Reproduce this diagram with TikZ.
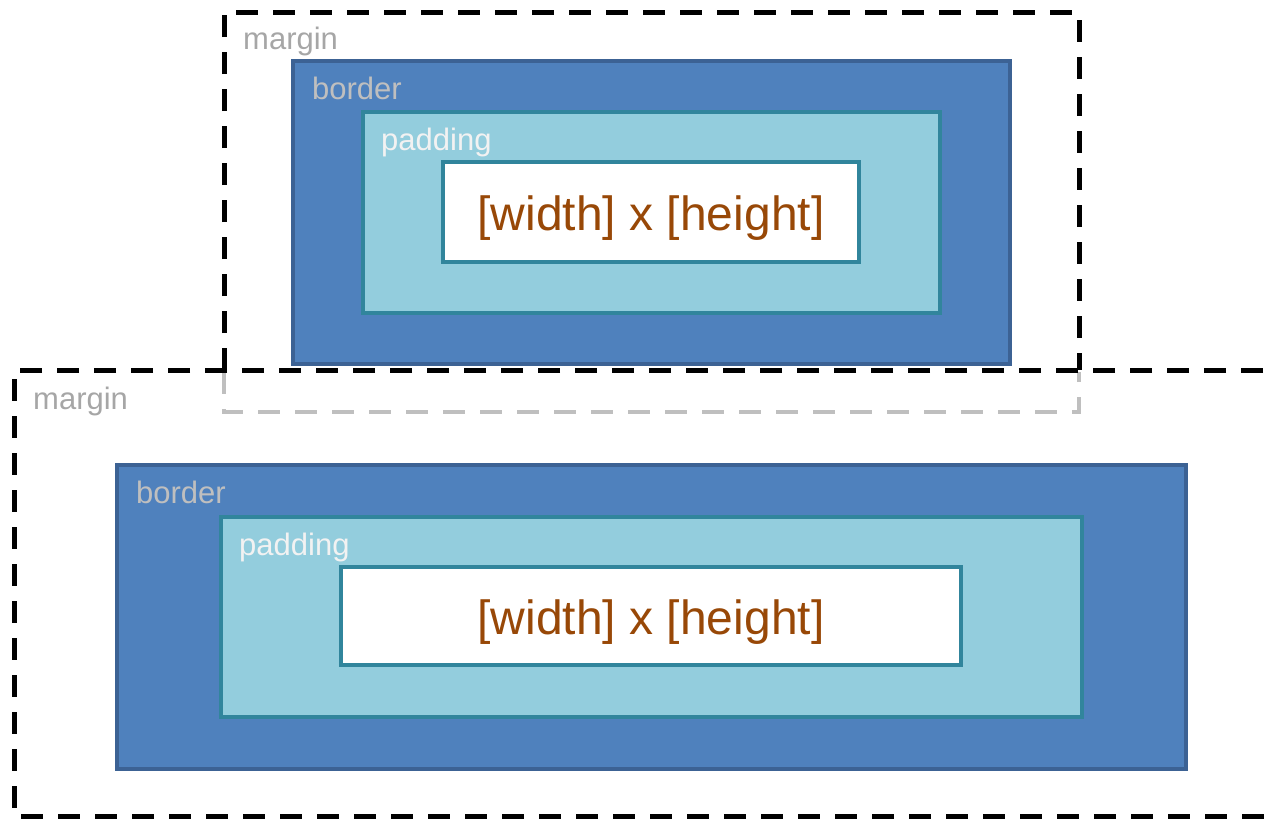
\documentclass[tikz,border=0pt]{standalone}
\usepackage{fontspec}
\setmainfont{Liberation Sans}
\definecolor{borderfill}{HTML}{4F81BD}
\definecolor{borderline}{HTML}{3C6294}
\definecolor{padfill}{HTML}{93CDDD}
\definecolor{padline}{HTML}{31859C}
\definecolor{sizetext}{HTML}{984807}
\definecolor{marginlabel}{HTML}{A6A6A6}
\definecolor{borderlabel}{HTML}{BFBFBF}
\definecolor{paddinglabel}{HTML}{F2F2F2}
\definecolor{ghost}{HTML}{BFBFBF}
\tikzset{
  marginline/.style={line width=5pt, dash pattern=on 22pt off 15pt, black},
  ghostline/.style={line width=4.5pt, dash pattern=on 22pt off 15pt, ghost},
  borderbox/.style={fill=borderfill, draw=borderline, line width=3.5pt},
  padbox/.style={fill=padfill, draw=padline, line width=4pt},
  contentbox/.style={fill=white, draw=padline, line width=4pt},
  lbl/.style={anchor=base west, inner sep=0pt, font=\fontsize{31}{36}\selectfont},
  marginlbl/.style={lbl, text=marginlabel},
  borderlbl/.style={lbl, text=borderlabel},
  paddinglbl/.style={lbl, text=paddinglabel},
  sizelbl/.style={anchor=base, inner sep=0pt, text=sizetext, font=\fontsize{48}{56}\selectfont}
}
\begin{document}
\begin{tikzpicture}[x=1pt, y=-1pt]
\useasboundingbox (0,0) rectangle (1278,819);

% upper box: margin (upper part solid, lower part faded where it overlaps)
\draw[ghostline] (224,372) -- (224,412) -- (1079,412) -- (1079,372);
\draw[marginline] (224,370) -- (224,12) -- (1079,12) -- (1079,370);
\node[marginlbl] (m1) at (243,49) {margin};
\draw[borderbox] (293,61) rectangle (1010,364);
\node[borderlbl] (b1) at (312,99) {border};
\draw[padbox] (363,112) rectangle (940,313);
\node[paddinglbl] (p1) at (381,150) {padding};
\draw[contentbox] (443,162) rectangle (859,262);
\node[sizelbl] (c1) at (651,230) {[width] x [height]};

% lower box: margin runs off the right edge
\draw[marginline] (1300,370) -- (14,370) -- (14,816) -- (1300,816);
\node[marginlbl] (m2) at (33,409) {margin};
\draw[borderbox] (117,465) rectangle (1186,769);
\node[borderlbl] (b2) at (136,503) {border};
\draw[padbox] (221,517) rectangle (1082,717);
\node[paddinglbl] (p2) at (239,555) {padding};
\draw[contentbox] (341,567) rectangle (961,665);
\node[sizelbl] (c2) at (651,634) {[width] x [height]};
\end{tikzpicture}
\end{document}
